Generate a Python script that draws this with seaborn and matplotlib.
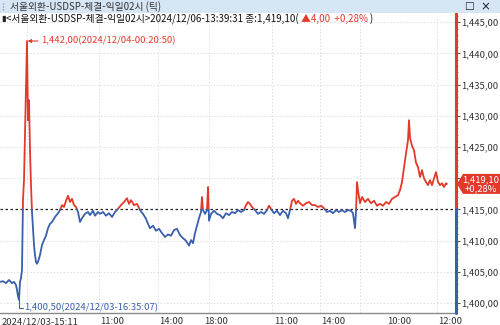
import numpy as np
import pandas as pd
import matplotlib
matplotlib.use("Agg")
import matplotlib.pyplot as plt
import seaborn as sns
from matplotlib.patches import Rectangle, Polygon
from matplotlib.lines import Line2D
from matplotlib.ticker import MultipleLocator
import matplotlib.transforms as mtransforms

# ---------------- data ----------------
tick_pos = [0, 3, 6, 9, 12, 14, 16, 17, 18, 19, 20, 21, 22, 23, 24, 25, 26, 27, 28, 29,
            30, 31, 32, 33, 34, 35, 36, 37, 38, 40, 42, 44, 46, 48, 50, 52, 55, 58, 60, 62,
            64, 66, 68, 70, 72, 74, 76, 78, 80, 82, 85, 88, 90, 93, 95, 98, 100, 103, 106, 109,
            112, 115, 118, 121, 124, 127, 129, 131, 134, 137, 140, 143, 146, 148, 150, 153, 156, 159, 162, 165,
            168, 171, 174, 177, 180, 183, 186, 189, 191, 193, 195, 197, 199, 201, 202, 203, 205, 207, 208, 209,
            211, 214, 217, 220, 223, 226, 229, 232, 235, 238, 241, 244, 246, 248, 250, 252, 255, 258, 261, 264,
            267, 269, 271, 274, 277, 280, 283, 286, 288, 290, 292, 294, 296, 298, 300, 303, 306, 309, 312, 315,
            318, 321, 324, 327, 330, 333, 336, 339, 342, 345, 348, 351, 353, 355, 356, 357, 358, 360, 362, 365,
            368, 371, 374, 377, 380, 383, 386, 389, 392, 395, 398, 400, 402, 404, 406, 408, 409, 410, 412, 414,
            416, 418, 420, 422, 424, 426, 428, 430, 432, 434, 436, 438, 440, 442, 444, 446, 447]
price = [1403.4, 1403.5, 1403.2, 1403.7, 1403.2, 1403.4, 1402.9, 1402.1, 1401.1, 1400.5, 1403.4, 1404.0, 1405.3, 1416.5, 1419.7, 1426.9, 1434.1, 1442.0, 1429.3, 1432.5,
         1424.5, 1418.9, 1414.6, 1412.0, 1409.3, 1407.7, 1406.6, 1406.3, 1406.6, 1407.7, 1409.3, 1410.1, 1410.8, 1412.0, 1412.7, 1413.0, 1413.8, 1414.4, 1414.9, 1415.7,
         1415.4, 1416.4, 1417.2, 1416.2, 1416.7, 1415.7, 1415.4, 1414.6, 1413.0, 1413.6, 1414.3, 1414.6, 1414.1, 1414.8, 1414.0, 1414.6, 1414.3, 1414.6, 1414.0, 1414.4,
         1413.8, 1414.6, 1415.1, 1415.7, 1416.2, 1416.8, 1415.9, 1416.5, 1415.7, 1415.9, 1414.9, 1414.3, 1413.5, 1412.7, 1412.0, 1412.4, 1411.6, 1411.9, 1411.2, 1410.6,
         1411.0, 1410.8, 1411.7, 1411.9, 1410.9, 1410.4, 1410.0, 1409.2, 1410.1, 1409.6, 1411.2, 1412.4, 1413.6, 1414.6, 1417.0, 1414.9, 1414.3, 1414.9, 1418.6, 1413.2,
         1414.3, 1414.8, 1414.3, 1414.1, 1413.6, 1414.4, 1414.1, 1414.6, 1414.4, 1414.9, 1414.6, 1414.9, 1415.7, 1416.2, 1415.9, 1415.4, 1414.9, 1414.3, 1414.6, 1414.3,
         1414.9, 1415.6, 1415.1, 1414.4, 1414.8, 1414.1, 1414.8, 1414.4, 1413.6, 1414.9, 1416.4, 1416.7, 1415.9, 1416.4, 1416.0, 1415.6, 1416.0, 1416.2, 1415.7, 1415.7,
         1415.4, 1415.6, 1415.2, 1414.6, 1414.8, 1414.4, 1414.9, 1414.6, 1414.9, 1414.6, 1414.9, 1414.8, 1414.4, 1412.0, 1414.6, 1419.4, 1418.1, 1416.0, 1417.0, 1416.2,
         1416.7, 1416.0, 1416.4, 1415.6, 1415.9, 1415.6, 1416.2, 1415.9, 1416.7, 1417.0, 1417.3, 1418.1, 1419.4, 1421.7, 1424.0, 1426.1, 1429.3, 1426.5, 1425.2, 1424.5,
         1422.5, 1421.8, 1420.2, 1421.3, 1420.0, 1419.4, 1418.9, 1419.7, 1418.9, 1420.0, 1421.0, 1419.4, 1418.9, 1419.2, 1418.6, 1419.2, 1419.1]

prev_close = 1415.00
last_price_label = "1,419,10"
last_change_label = "+0,28%"
y_ticks = [1400, 1405, 1410, 1415, 1420, 1425, 1430, 1435, 1440, 1445]
y_tick_labels = ["1,400,00", "1,405,00", "1,410,00", "1,415,00", "1,420,00",
                 "1,425,00", "1,430,00", "1,435,00", "1,440,00", "1,445,00"]
x_tick_pos = [0, 99, 158, 203, 273, 320, 386, 437]
x_tick_labels = ["2024/12/03-15:11", "11:00", "14:00", "18:00", "11:00", "14:00", "10:00", "12:00"]
x_grid_pos = [27, 99, 158, 209, 272, 320, 360, 437]
max_label = "1,442,00(2024/12/04-00:20:50)"
min_label = "1,400,50(2024/12/03-16:35:07)"
title_text = "서울외환-USDSP-체결-익일02시 (틱)"
header_black = "<서울외환-USDSP-체결-익일02시>2024/12/06-13:39:31 종:1,419,10("
header_red = " ▲4,00  +0,28% "
header_end = ")"

# ---------------- style ----------------
sns.set_style("white")
plt.rcParams["font.family"] = ["Noto Sans CJK KR", "DejaVu Sans"]

RED = "#e2392a"
BLUE = "#3a5fab"
TXT = "#333333"
GRID = "#d4d4d4"

W, H = 500, 325
fig = plt.figure(figsize=(5, 3.25), dpi=100)
fig.patch.set_facecolor("white")

ax_left, ax_right, ax_top, ax_bottom = 0, 456, 13, 313
ax = fig.add_axes([ax_left / W, (H - ax_bottom) / H, (ax_right - ax_left) / W, (ax_bottom - ax_top) / H])
ax.set_facecolor("white")

YMIN, YMAX = 1398.41, 1446.49
XMAX = 456
ax.set_xlim(0, XMAX)
ax.set_ylim(YMIN, YMAX)

# grid
for yv in y_ticks:
    if yv != prev_close:
        ax.axhline(yv, color=GRID, lw=0.6, ls=(0, (1.5, 2.5)), zorder=0)
for xv in x_grid_pos:
    ax.axvline(xv, color=GRID, lw=0.6, ls=(0, (1.5, 2.5)), zorder=0)

df = pd.DataFrame({"pos": tick_pos, "price": price})
sns.lineplot(data=df, x="pos", y="price", ax=ax, color=RED, lw=1.3,
             estimator=None, sort=False, legend=False)
red_line = ax.lines[-1]
sns.lineplot(data=df, x="pos", y="price", ax=ax, color=BLUE, lw=1.3,
             estimator=None, sort=False, legend=False)
blue_line = ax.lines[-1]
red_line.set_clip_path(Rectangle((0, prev_close), XMAX, 100, transform=ax.transData))
blue_line.set_clip_path(Rectangle((0, prev_close - 100), XMAX, 100, transform=ax.transData))
red_line.set_zorder(3)
blue_line.set_zorder(3)

# previous close baseline
ax.axhline(prev_close, color="#222222", lw=0.9, ls=(0, (2, 2)), zorder=2)

ax.set_xlabel("")
ax.set_ylabel("")

# right axis line red/blue
frac = (prev_close - YMIN) / (YMAX - YMIN)
ax.axvline(XMAX, ymin=frac, ymax=1, color=RED, lw=2.2, clip_on=False, zorder=5)
ax.axvline(XMAX, ymin=0, ymax=frac, color=BLUE, lw=2.2, clip_on=False, zorder=5)

for s in ["top", "left", "right"]:
    ax.spines[s].set_visible(False)
ax.spines["bottom"].set_color("#8a8a8a")
ax.spines["bottom"].set_linewidth(1.0)

ax.yaxis.tick_right()
ax.set_yticks(y_ticks)
ax.set_yticklabels(y_tick_labels)
ax.yaxis.set_minor_locator(MultipleLocator(1))
ax.tick_params(axis="y", which="major", length=3, width=0.8, color="#555555",
               labelsize=6.8, labelcolor=TXT, pad=1)
ax.tick_params(axis="y", which="minor", length=1.6, width=0.6, color="#777777")

ax.set_xticks(x_tick_pos)
ax.set_xticklabels(x_tick_labels)
ax.tick_params(axis="x", which="major", length=3, width=0.8, color="#555555",
               labelsize=6.8, labelcolor=TXT, pad=0)
offset = mtransforms.ScaledTranslation(1.5 / 100, 0, fig.dpi_scale_trans)
for lab in ax.get_xticklabels():
    lab.set_horizontalalignment("left")
    lab.set_transform(lab.get_transform() + offset)

# max / min annotations
imax = int(np.argmax(price))
imin = int(np.argmin(price))
ax.annotate(max_label, xy=(tick_pos[imax] + 0.6, price[imax]),
            xytext=(tick_pos[imax] + 14, price[imax]), textcoords="data",
            color=RED, fontsize=6.8, va="center", ha="left",
            arrowprops=dict(arrowstyle="-|>", color=RED, lw=0.8, mutation_scale=5,
                            shrinkA=0, shrinkB=0), zorder=6)
ylab = 1399.25
ax.plot([tick_pos[imin], tick_pos[imin], tick_pos[imin] + 4], [price[imin], ylab, ylab],
        color=BLUE, lw=0.8, zorder=6)
ax.text(tick_pos[imin] + 5, ylab, min_label, color=BLUE, fontsize=6.8, va="center", ha="left", zorder=6)

# ---------------- header ----------------
fig.patches.append(Rectangle((0, 1 - 13 / H), 1, 13 / H, transform=fig.transFigure,
                             facecolor="#d6e6f4", edgecolor="none", zorder=1))
fig.lines.append(Line2D([3 / W, 3 / W], [1 - 3 / H, 1 - 11 / H], transform=fig.transFigure,
                        color="#8a9aab", lw=1.0, ls=(0, (1, 1))))
fig.text(10 / W, 1 - 6.5 / H, title_text, fontsize=7, color=TXT, va="center", ha="left")
fig.text(464 / W, 1 - 6.5 / H, "□", fontsize=7.5, color="#222222", va="center", ha="left",
         family=["DejaVu Sans"])
fig.text(480 / W, 1 - 6.5 / H, "×", fontsize=8.5, color="#222222", va="center", ha="left",
         family=["DejaVu Sans"])

fig.text(1 / W, 1 - 19 / H, "▮", fontsize=6, color="#222222", va="center", ha="left",
         family=["DejaVu Sans"])
t1 = fig.text(6 / W, 1 - 19 / H, header_black, fontsize=7, color="#111111", va="center", ha="left")
t2 = ax.annotate(header_red, xy=(1, 0.5), xycoords=t1, va="center", ha="left",
                 fontsize=7, color=RED, annotation_clip=False)
t3 = ax.annotate(header_end, xy=(1, 0.5), xycoords=t2, va="center", ha="left",
                 fontsize=7, color="#111111", annotation_clip=False)

# ---------------- last price box ----------------
fig.canvas.draw()
y_disp = ax.transData.transform((0, price[-1]))[1]
yc = y_disp / H
hh = 10 / H
pts = [(457 / W, yc), (463 / W, yc + hh), (500 / W, yc + hh), (500 / W, yc - hh), (463 / W, yc - hh)]
fig.patches.append(Polygon(pts, closed=True, transform=fig.transFigure,
                           facecolor=RED, edgecolor="none", zorder=5))
fig.text(481 / W, yc + 4.5 / H, last_price_label, fontsize=6.8, color="white",
         va="center", ha="center", zorder=6)
fig.text(481 / W, yc - 4.5 / H, last_change_label, fontsize=6.8, color="white",
         va="center", ha="center", zorder=6)

fig.savefig("out.png", dpi=100)
